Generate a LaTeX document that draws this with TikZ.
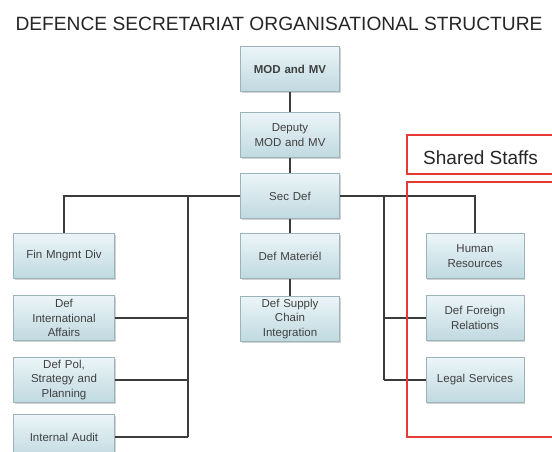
\documentclass[tikz,border=0pt]{standalone}
\usepackage{fontspec}
\setmainfont{Liberation Sans}
\usetikzlibrary{shadows}
\definecolor{boxtop}{HTML}{EBF5F8}
\definecolor{boxbot}{HTML}{C0D9E0}
\definecolor{boxline}{HTML}{9DB3BA}
\definecolor{linkcol}{HTML}{3C3C3C}
\definecolor{txtcol}{HTML}{404040}
\definecolor{redcol}{HTML}{E83A35}
\tikzset{
  orgbox/.style={rectangle, minimum height=45pt, inner sep=1pt, align=center,
    top color=boxtop, bottom color=boxbot, draw=boxline, line width=0.6pt,
    text=txtcol, font=\fontsize{11.5}{14.5}\selectfont,
    drop shadow={shadow xshift=1.2pt, shadow yshift=-1.2pt, opacity=0.35, fill=gray}},
  midbox/.style={orgbox, minimum width=99pt, text width=95pt},
  leftbox/.style={orgbox, minimum width=101pt, text width=97pt},
  rightbox/.style={orgbox, minimum width=98pt, text width=94pt},
  link/.style={draw=linkcol, line width=1.4pt},
  redbox/.style={draw=redcol, line width=1.5pt}
}
\begin{document}
\begin{tikzpicture}[x=1pt,y=-1pt]
\useasboundingbox (0,0) rectangle (552,452);
\clip (0,0) rectangle (552,452);
\fill[white] (0,0) rectangle (552,452);
% title
\node[anchor=base, inner sep=0pt, text=black!85, font=\fontsize{19.2}{22}\selectfont] (title) at (279,31) {DEFENCE SECRETARIAT ORGANISATIONAL STRUCTURE};
% shared staffs red box
\draw[redbox] (407,135) rectangle (560,174);
\node[anchor=base west, inner sep=0pt, text=black!85, font=\fontsize{19}{22}\selectfont] (shared) at (423,164) {Shared Staffs};
% centre column
\node[midbox, font=\fontsize{11.5}{14.5}\selectfont\bfseries] (mod) at (290,69) {MOD and MV};
\node[midbox] (dep) at (290,135) {Deputy\\MOD and MV};
\node[midbox] (sec) at (290,196) {Sec Def};
\node[midbox] (mat) at (290,256) {Def Materiél};
\node[midbox] (sup) at (290,319) {Def Supply\\Chain\\Integration};
% left column
\node[leftbox] (fin) at (64,256) {Fin Mngmt Div};
\node[leftbox] (dia) at (64,318) {Def\\International\\Affairs};
\node[leftbox] (dps) at (64,380) {Def Pol,\\Strategy and\\Planning};
\node[leftbox] (ia) at (64,437) {Internal Audit};
% right column
\node[rightbox] (hr) at (475,256) {Human\\Resources};
\node[rightbox] (dfr) at (475,318) {Def Foreign\\Relations};
\node[rightbox] (ls) at (475,380) {Legal Services};
% trunk coordinates
\coordinate (tl) at (188,196);
\coordinate (tr) at (384,196);
% connectors
\draw[link] (mod.south) -- (dep.north);
\draw[link] (dep.south) -- (sec.north);
\draw[link] (sec.south) -- (mat.north);
\draw[link] (mat.south) -- (sup.north);
\draw[link] (sec.west) -| (fin.north);
\draw[link] (tl) -- (ia.east -| tl);
\draw[link] (dia.east) -- (dia.east -| tl);
\draw[link] (dps.east) -- (dps.east -| tl);
\draw[link] (ia.east) -- (ia.east -| tl);
\draw[link] (sec.east) -| (hr.north);
\draw[link] (tr) -- (ls.west -| tr);
\draw[link] (dfr.west) -- (dfr.west -| tr);
\draw[link] (ls.west) -- (ls.west -| tr);
% second red box drawn over connectors
\draw[redbox] (407,182) rectangle (560,437);
\end{tikzpicture}
\end{document}
